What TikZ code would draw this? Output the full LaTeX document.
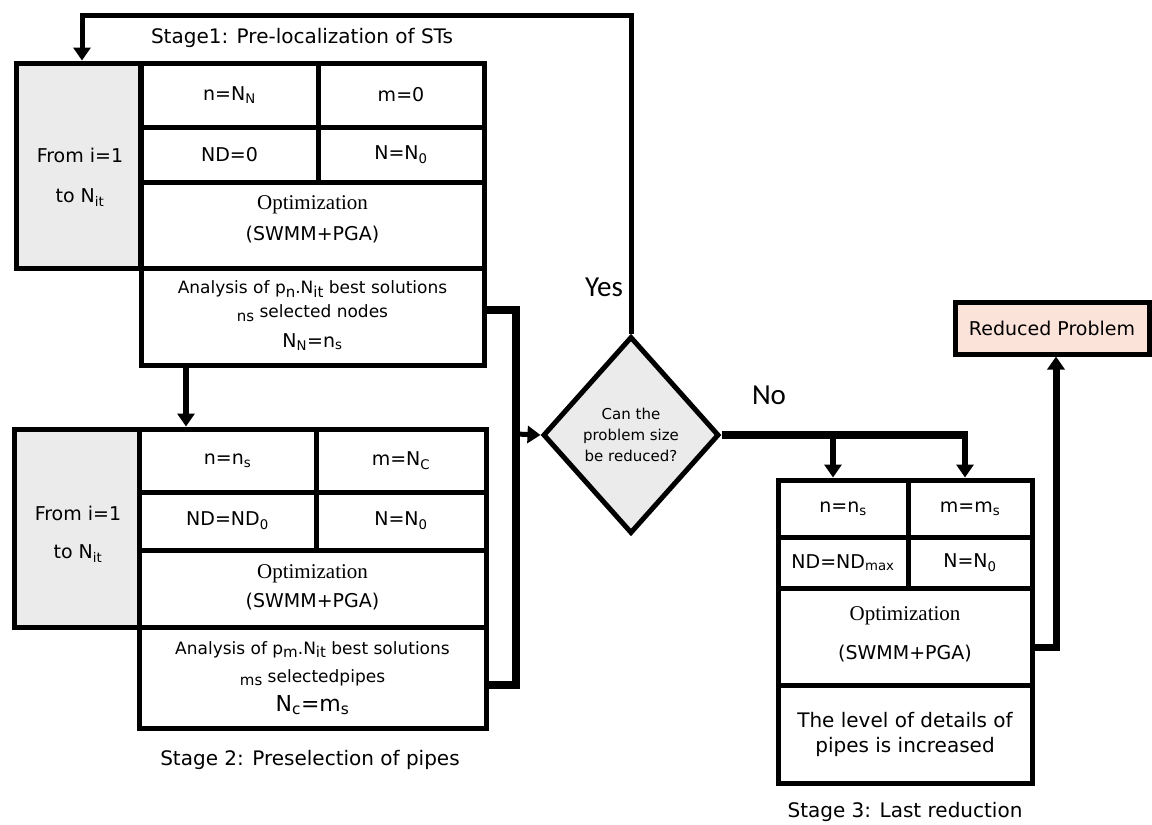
\documentclass[tikz,border=0pt]{standalone}
\usepackage{fontspec}
\setmainfont{DejaVu Sans}
\newfontfamily\serifopt{Liberation Serif}
\newfontfamily\narrowf{Carlito}
\usetikzlibrary{shapes.geometric,arrows.meta}
\definecolor{boxgray}{HTML}{EBEBEB}
\definecolor{peach}{HTML}{FBE3DA}
\newcommand{\fsz}[1]{\fontsize{#1}{#1}\selectfont}
\newcommand{\lsub}[1]{\raisebox{-0.35ex}{\fontsize{15}{15}\selectfont #1}}
\begin{document}
\begin{tikzpicture}[x=1pt,y=-1pt,
  box/.style={draw=black, line width=5pt, inner sep=0pt, align=center, fill=white, line join=miter},
  greybox/.style={box, fill=boxgray},
  celltext/.style={font=\fsz{19}},
  opttext/.style={align=center, inner sep=0pt},
  lbl/.style={inner sep=0pt, font=\fsz{20}},
  con/.style={line width=7pt, line join=miter},
  arr/.style={line width=5pt, -{Triangle[length=13pt,width=17pt]}},
  yn/.style={inner sep=0pt, font=\narrowf\fsz{29}}]
\useasboundingbox (0,0) rectangle (1152,825);
\fill[white] (0,0) rectangle (1152,825);

% ---------- Stage 1 ----------
\node[greybox, minimum width=124pt, minimum height=205pt] (g1) at (78.5,165.5) {};
\node[lbl, align=center, font=\fsz{19}] (g1t) at (80,177) {From i=1\\[21pt]to N\textsubscript{it}};
\node[box, celltext, minimum width=177pt, minimum height=64pt] (c11) at (229.5,95) {n=N\textsubscript{N}};
\node[box, celltext, minimum width=166pt, minimum height=64pt] (c12) at (401,95) {m=0};
\node[box, celltext, minimum width=177pt, minimum height=55pt] (c13) at (229.5,154.5) {ND=0};
\node[box, celltext, minimum width=166pt, minimum height=55pt] (c14) at (401,154.5) {N=N\textsubscript{0}};
\node[box, minimum width=343pt, minimum height=86pt] (opt1) at (312.5,225) {};
\node[opttext] (opt1t) at (312.5,219.5) {{\serifopt\fsz{21}Optimization}\\[11pt]{\fsz{19}(SWMM+PGA)}};
\node[box, minimum width=343pt, minimum height=97pt] (an1) at (312.5,316.5) {};
\node[opttext, font=\fsz{17}] (an1t) at (312.5,316) {Analysis of p\lsub{n}.N\lsub{it} best solutions\\[7pt]\lsub{ns} selected nodes\\[11pt]{\fsz{19}N\textsubscript{N}=n\textsubscript{s}}};

% ---------- Stage 2 ----------
\node[greybox, minimum width=125pt, minimum height=198pt] (g2) at (76.5,528) {};
\node[lbl, align=center, font=\fsz{19}] (g2t) at (78,534) {From i=1\\[19pt]to N\textsubscript{it}};
\node[box, celltext, minimum width=177pt, minimum height=63pt] (c21) at (227.5,460.5) {n=n\textsubscript{s}};
\node[box, celltext, minimum width=170pt, minimum height=63pt] (c22) at (401,460.5) {m=N\textsubscript{C}};
\node[box, celltext, minimum width=177pt, minimum height=58pt] (c23) at (227.5,521) {ND=ND\textsubscript{0}};
\node[box, celltext, minimum width=170pt, minimum height=58pt] (c24) at (401,521) {N=N\textsubscript{0}};
\node[box, minimum width=347pt, minimum height=77pt] (opt2) at (312.5,588.5) {};
\node[opttext] (opt2t) at (312.5,587) {{\serifopt\fsz{21}Optimization}\\[9pt]{\fsz{19}(SWMM+PGA)}};
\node[box, minimum width=347pt, minimum height=101pt] (an2) at (312.5,677.5) {};
\node[opttext, font=\fsz{17}] (an2t) at (312.5,678) {Analysis of p\lsub{m}.N\lsub{it} best solutions\\[11pt]\lsub{ms} selectedpipes\\[9pt]{\fsz{22}N\textsubscript{c}=m\textsubscript{s}}};

% ---------- Stage 3 ----------
\node[box, celltext, minimum width=130pt, minimum height=57pt] (c31) at (843,508.5) {n=n\textsubscript{s}};
\node[box, celltext, minimum width=124pt, minimum height=57pt] (c32) at (970,508.5) {m=m\textsubscript{s}};
\node[box, celltext, minimum width=130pt, minimum height=51pt] (c33) at (843,562.5) {ND=ND\textsubscript{max}};
\node[box, celltext, minimum width=124pt, minimum height=51pt] (c34) at (970,562.5) {N=N\textsubscript{0}};
\node[box, minimum width=254pt, minimum height=97pt] (opt3) at (905,636.5) {};
\node[opttext] (opt3t) at (905,634) {{\serifopt\fsz{21}Optimization}\\[19pt]{\fsz{19}(SWMM+PGA)}};
\node[box, minimum width=254pt, minimum height=98pt] (lv3) at (905,734) {};
\node[opttext, font=\fsz{20}] (lv3t) at (905,734) {The level of details of\\[5pt]pipes is increased};

% ---------- decision & result ----------
\node[diamond, draw=black, fill=boxgray, line width=5pt, aspect=0.9, minimum width=176pt, minimum height=197pt, inner sep=0pt, align=center, font=\fsz{15}] (d) at (631,435) {Can the\\[6pt]problem size\\[6pt]be reduced?};
\node[box, fill=peach, minimum width=194pt, minimum height=52pt, font=\fsz{19}] (rp) at (1052,328) {Reduced Problem};

% ---------- labels ----------
\node[lbl] (s1) at (302,38) {Stage1: Pre-localization of STs};
\node[lbl] (s2) at (310,760) {Stage 2: Preselection of pipes};
\node[lbl] (s3) at (905,812) {Stage 3: Last reduction};
\node[yn] (yes) at (604,287) {Yes};
\node[yn] (no) at (769,395) {No};

% ---------- connectors ----------
\coordinate (fbtop) at (631,15);
\draw[arr] (d.north) -- (fbtop) -| ([xshift=3.5pt]g1.north);
\coordinate (jv) at (516,434);
\draw[con, line width=8pt] ([yshift=6.5pt]an1.east) -| (jv) |- ([yshift=-7.5pt]an2.east);
\draw[arr] (jv) -- (d.west);
\draw[arr, line width=6pt] ([xshift=-126.5pt]an1.south) -- ([xshift=-41.5pt]c21.north);
\coordinate (nR) at ([xshift=-5pt]c32.north |- d.east);
\coordinate (nL) at ([xshift=-10pt]c31.north |- d.east);
\draw[con, line width=8pt] (d.east) -- ([xshift=3pt]nR);
\draw[arr, line width=6pt] (nL) -- (nL |- c31.north);
\draw[arr, line width=6pt] (nR) -- (nR |- c32.north);
\draw[con, -{Triangle[length=13pt,width=17pt]}] ([yshift=-10.5pt]opt3.east) -| ([xshift=4pt]rp.south);
\end{tikzpicture}
\end{document}
